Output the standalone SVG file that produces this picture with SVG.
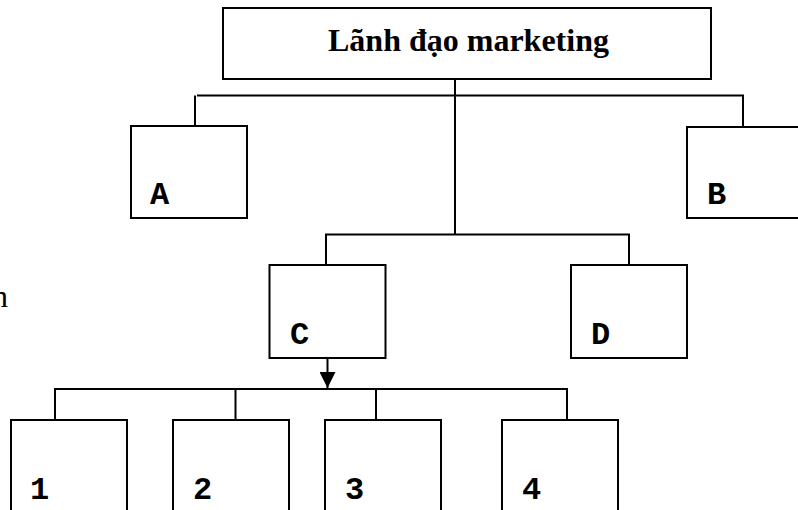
<svg xmlns="http://www.w3.org/2000/svg" width="798" height="510" viewBox="0 0 798 510">
  <style>
    .box { fill: #fff; stroke: #000; stroke-width: 2; }
    .line { fill: none; stroke: #000; stroke-width: 2; }
    .title { font-family: "Liberation Serif", "Times New Roman", serif; font-weight: bold; font-size: 32px; fill: #000; }
    .lbl { font-family: "Liberation Mono", "Courier New", monospace; font-weight: bold; font-size: 32px; fill: #000; }
    .side { font-family: "Liberation Serif", "Times New Roman", serif; font-size: 32px; fill: #000; }
  </style>
  <defs>
    <marker id="arrow" viewBox="0 0 16 16" refX="16" refY="8" markerWidth="16" markerHeight="16" markerUnits="userSpaceOnUse" orient="auto">
      <path d="M0,0 L16,8 L0,16 Z" fill="#000"/>
    </marker>
  </defs>

  <rect width="798" height="510" fill="#fff"/>

  <!-- stray side text, partly clipped at the left edge -->
  <text class="side" x="-8" y="307">n</text>

  <g id="connectors">
    <!-- head to first tier -->
    <path class="line" d="M455,80 V235"/>
    <path class="line" d="M197,95.5 H743 V127"/>
    <path class="line" d="M195,95.5 V126"/>
    <!-- second tier C / D -->
    <path class="line" d="M326,265 V234.5 H629 V265"/>
    <!-- C to its sub-units -->
    <path class="line" d="M327.5,358 V388" marker-end="url(#arrow)"/>
    <path class="line" d="M55,420 V389 H567 V420"/>
    <path class="line" d="M235.5,389 V420"/>
    <path class="line" d="M376,389 V420"/>
  </g>

  <g id="head">
    <rect class="box" x="223" y="8" width="488" height="71"/>
    <text class="title" x="328" y="51">Lãnh đạo marketing</text>
  </g>

  <g id="node-a">
    <rect class="box" x="131" y="126" width="116" height="92"/>
    <text class="lbl" x="150" y="204">A</text>
  </g>

  <g id="node-b">
    <rect class="box" x="687" y="127" width="116" height="91"/>
    <text class="lbl" x="707" y="204">B</text>
  </g>

  <g id="node-c">
    <rect class="box" x="269.5" y="265" width="116" height="93"/>
    <text class="lbl" x="290" y="344">C</text>
  </g>

  <g id="node-d">
    <rect class="box" x="571" y="265" width="116" height="93"/>
    <text class="lbl" x="591" y="344">D</text>
  </g>

  <g id="node-1">
    <rect class="box" x="11" y="420" width="116" height="100"/>
    <text class="lbl" x="30" y="499">1</text>
  </g>

  <g id="node-2">
    <rect class="box" x="173" y="420" width="116" height="100"/>
    <text class="lbl" x="193" y="499">2</text>
  </g>

  <g id="node-3">
    <rect class="box" x="325" y="420" width="116" height="100"/>
    <text class="lbl" x="345" y="499">3</text>
  </g>

  <g id="node-4">
    <rect class="box" x="502" y="420" width="116" height="100"/>
    <text class="lbl" x="522" y="499">4</text>
  </g>
</svg>
